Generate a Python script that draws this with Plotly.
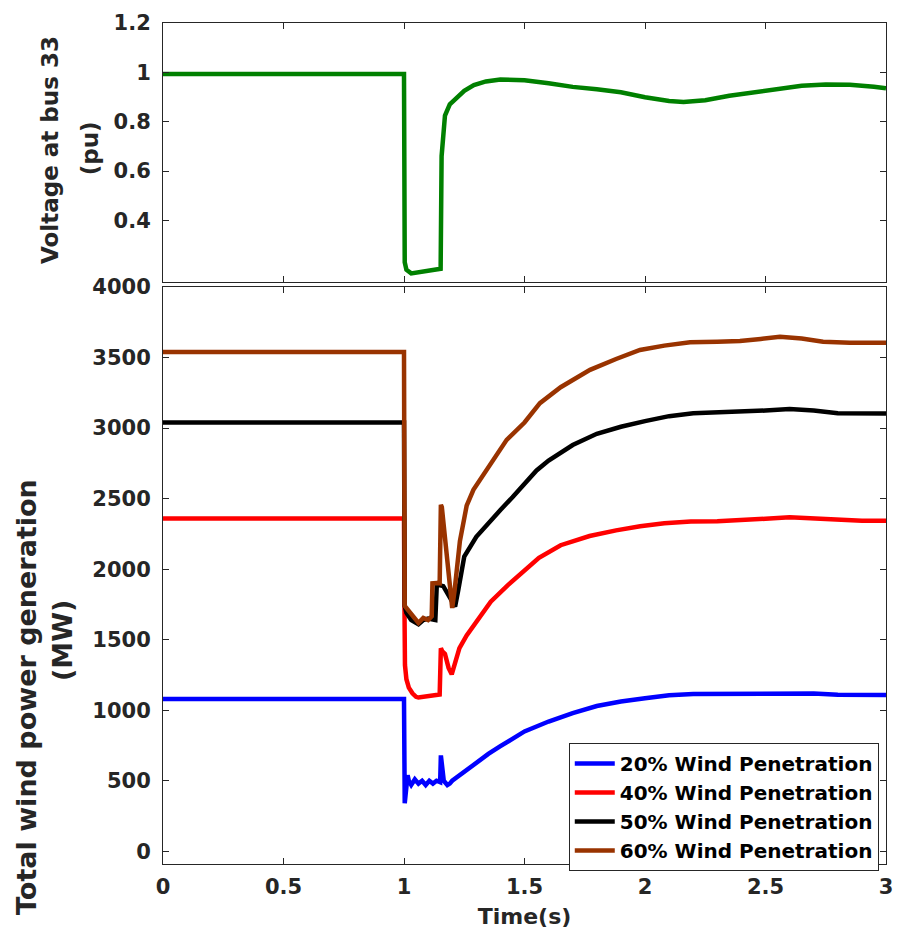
import plotly.graph_objects as go

# ---------------- data ----------------
# Top panel: voltage at bus 33 (pu)
t_volt = [0, 1.0, 1.003, 1.01, 1.03, 1.08, 1.12, 1.152, 1.156, 1.162, 1.17, 1.19, 1.22, 1.25,
          1.29, 1.34, 1.4, 1.5, 1.6, 1.7, 1.8, 1.9, 2.0, 2.1, 2.16, 2.25, 2.35, 2.45, 2.55,
          2.65, 2.75, 2.85, 2.95, 3.0]
volt = [0.993, 0.993, 0.23, 0.2, 0.185, 0.192, 0.198, 0.204, 0.66, 0.76, 0.825, 0.87, 0.90, 0.925,
        0.948, 0.963, 0.971, 0.968, 0.956, 0.941, 0.931, 0.919, 0.899, 0.884, 0.880, 0.887, 0.905,
        0.920, 0.935, 0.946, 0.951, 0.950, 0.942, 0.935]

# Bottom panel: total wind power generation (MW)
t_20 = [0, 1.0, 1.003, 1.008, 1.015, 1.02, 1.03, 1.045, 1.06, 1.075, 1.09, 1.105, 1.12, 1.135,
        1.15, 1.153, 1.158, 1.165, 1.18, 1.19, 1.2, 1.23, 1.27, 1.3, 1.35, 1.4, 1.45, 1.5, 1.6,
        1.7, 1.8, 1.9, 2.0, 2.1, 2.2, 2.3, 2.4, 2.5, 2.6, 2.7, 2.8, 2.9, 3.0]
p_20 = [1080, 1080, 340, 420, 540, 500, 470, 510, 480, 500, 470, 500, 480, 500,
        490, 680, 560, 500, 470, 480, 500, 540, 590, 630, 690, 745, 800, 850, 920,
        980, 1030, 1062, 1085, 1106, 1115, 1115, 1118, 1122, 1122, 1118, 1110, 1108, 1108]

t_40 = [0, 1.0, 1.002, 1.004, 1.01, 1.02, 1.035, 1.05, 1.06, 1.08, 1.1, 1.12, 1.148, 1.153,
        1.158, 1.17, 1.185, 1.198, 1.21, 1.23, 1.26, 1.29, 1.32, 1.36, 1.43, 1.5, 1.56, 1.65,
        1.77, 1.88, 1.98, 2.08, 2.19, 2.3, 2.4, 2.5, 2.6, 2.7, 2.8, 2.9, 3.0]
p_40 = [2360, 2360, 1720, 1320, 1220, 1160, 1120, 1095, 1090, 1095, 1100, 1100, 1112, 1440,
        1420, 1400, 1300, 1255, 1330, 1440, 1530, 1600, 1680, 1770, 1885, 1990, 2080, 2170,
        2235, 2275, 2305, 2325, 2338, 2340, 2345, 2358, 2369, 2360, 2345, 2343, 2343]

t_50 = [0, 1.0, 1.003, 1.01, 1.03, 1.06, 1.08, 1.1, 1.13, 1.136, 1.15, 1.163, 1.19, 1.212,
        1.225, 1.25, 1.3, 1.35, 1.4, 1.45, 1.5, 1.55, 1.6, 1.7, 1.8, 1.9, 2.0, 2.1, 2.2, 2.3,
        2.4, 2.5, 2.6, 2.7, 2.8, 2.9, 3.0]
p_50 = [3040, 3040, 1740, 1690, 1640, 1610, 1640, 1650, 1640, 1890, 1885, 1880, 1800, 1735,
        1850, 2090, 2230, 2330, 2420, 2510, 2600, 2700, 2770, 2880, 2960, 3010, 3050, 3085,
        3105, 3110, 3118, 3125, 3135, 3125, 3106, 3103, 3103]

t_60 = [0, 1.0, 1.003, 1.025, 1.045, 1.06, 1.08, 1.1, 1.115, 1.118, 1.136, 1.148, 1.153, 1.157,
        1.2, 1.21, 1.232, 1.26, 1.288, 1.343, 1.426, 1.5, 1.564, 1.65, 1.772, 1.88, 1.979, 2.08,
        2.187, 2.3, 2.394, 2.48, 2.56, 2.65, 2.739, 2.85, 3.0]
p_60 = [3540, 3540, 1740, 1690, 1650, 1620, 1654, 1640, 1666, 1900, 1902, 1900, 2457, 2440,
        1725, 1850, 2200, 2450, 2563, 2704, 2917, 3040, 3177, 3290, 3413, 3490, 3554, 3585,
        3608, 3612, 3618, 3632, 3648, 3635, 3613, 3606, 3606]

series_names = ["20% Wind Penetration", "40% Wind Penetration",
                "50% Wind Penetration", "60% Wind Penetration"]
series_t = [t_20, t_40, t_50, t_60]
series_p = [p_20, p_40, p_50, p_60]
series_colors = ["#0000FF", "#FF0000", "#000000", "#993300"]

x_ticks = [0, 0.5, 1, 1.5, 2, 2.5, 3]
volt_ticks = [0.4, 0.6, 0.8, 1, 1.2]
power_ticks = [0, 500, 1000, 1500, 2000, 2500, 3000, 3500, 4000]

# ---------------- figure ----------------
AX = "#262626"
FONT = "DejaVu Sans"
fig = go.Figure()

fig.add_trace(go.Scatter(x=t_volt, y=volt, mode="lines", xaxis="x2", yaxis="y2",
                         line=dict(color="#008000", width=4.5), showlegend=False))

for name, tt, pp, col in zip(series_names, series_t, series_p, series_colors):
    fig.add_trace(go.Scatter(x=tt, y=pp, mode="lines", name=name, xaxis="x", yaxis="y",
                             line=dict(color=col, width=4.5)))

axis_common = dict(showline=True, linecolor=AX, linewidth=1, mirror="ticks",
                   ticks="inside", ticklen=6, tickcolor=AX, tickwidth=1,
                   showgrid=False, zeroline=False, automargin=False,
                   tickfont=dict(family=FONT, size=21, color=AX, weight="bold"))

# y-axis labels (rotated text placed left of the tick labels)
ylabel_specs = [
    ("Voltage at bus 33", -0.1563, 0.849, 23),
    ("(pu)", -0.1010, 0.851, 23),
    ("Total wind power generation", -0.1881, 0.1986, 27),
    ("(MW)", -0.1397, 0.2663, 27),
]
annotations = [
    dict(text=txt, x=xp, y=yp, xref="paper", yref="paper", textangle=-90,
         xanchor="center", yanchor="middle", showarrow=False,
         font=dict(family=FONT, size=sz, color=AX, weight="bold"))
    for txt, xp, yp, sz in ylabel_specs
]

fig.update_layout(
    width=897, height=941,
    margin=dict(l=163, r=11, t=23, b=77),
    paper_bgcolor="white", plot_bgcolor="white",
    font=dict(family=FONT, color=AX, weight="bold"),
    xaxis=dict(domain=[0, 1], range=[0, 3], tickvals=x_ticks, anchor="y",
               ticklabelstandoff=4,
               title=dict(text="Time(s)", font=dict(family=FONT, size=22, color=AX, weight="bold"),
                          standoff=10),
               **axis_common),
    yaxis=dict(domain=[0, 0.686], range=[-90, 4000], tickvals=power_ticks, anchor="x",
               ticklabelstandoff=7, **axis_common),
    xaxis2=dict(domain=[0, 1], range=[0, 3], tickvals=x_ticks, showticklabels=False,
                anchor="y2", **axis_common),
    yaxis2=dict(domain=[0.692, 1], range=[0.15, 1.2], tickvals=volt_ticks, anchor="x2",
                ticklabelstandoff=7, **axis_common),
    annotations=annotations,
    legend=dict(x=0.99, y=0.144, xanchor="right", yanchor="top",
                bgcolor="white", bordercolor=AX, borderwidth=1,
                font=dict(family=FONT, size=20, color="black", weight="bold"),
                tracegroupgap=0, itemwidth=40),
)

fig.write_html("out.html", config={"displayModeBar": False},
               post_script="document.body.style.margin='0';document.body.style.overflow='hidden';")
